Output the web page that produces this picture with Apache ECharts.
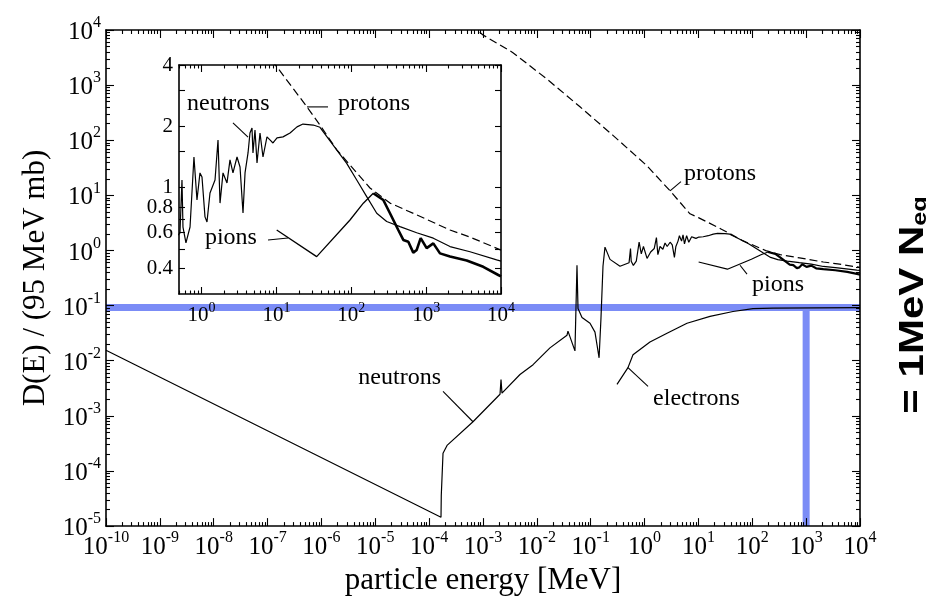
<!DOCTYPE html>
<html>
<head>
<meta charset="utf-8">
<script src="https://cdn.jsdelivr.net/npm/echarts@6/dist/echarts.min.js"></script>
<style>
html, body { margin: 0; padding: 0; background: #fff; }
#main { width: 926px; height: 601px; }
</style>
</head>
<body>
<div id="main"></div>
<script>
// particle energy in MeV, D(E) normalised to 95 MeV mb
var neutronE = [1e-10, 1.66e-4, 1.68e-4, 1.81e-4, 2.15e-4, 6.52e-4, 2.07e-3, 2.16e-3, 2.25e-3, 4.86e-3,
    8.51e-3, 1.75e-2, 3.63e-2, 3.78e-2, 5.10e-2, 5.56e-2, 5.81e-2, 6.89e-2, 9.70e-2, 0.120,
    0.131, 0.143, 0.155, 0.169, 0.184, 0.228, 0.350, 0.515, 0.548, 0.565,
    0.619, 0.702, 0.792, 0.869, 0.953, 1.014, 1.112, 1.183, 1.297, 1.514,
    1.660, 1.766, 1.936, 2.188, 2.399, 2.630, 2.979, 3.266, 3.581, 3.811,
    4.178, 4.436, 4.721, 4.864, 5.176, 5.508, 6.039, 6.622, 7.482, 8.204,
    8.995, 10.19, 12.25, 15.21, 18.84, 22.65, 31.12, 38.19, 63.83, 86.9,
    118.3, 160.7, 218.8, 297.2, 447.7, 748.2, 1247, 2084, 3855, 8750, 10000];
var neutronD = [1.55e-2, 1.45e-5, 3.58e-5, 2.09e-4, 2.91e-4, 7.82e-4, 2.47e-3, 4.58e-3, 2.58e-3, 5.62e-3,
    8.49e-3, 1.71e-2, 2.91e-2, 3.44e-2, 1.51e-2, 0.54, 8.83e-2, 6.11e-2, 4.78e-2, 3.30e-2,
    1.93e-2, 1.13e-2, 5.86e-2, 0.518, 1.15, 0.69, 0.518, 0.598, 1.089, 0.640,
    0.535, 0.640, 1.413, 0.869, 1.180, 1.127, 0.718, 0.678, 0.940, 1.089,
    1.714, 0.839, 1.180, 1.054, 1.368, 1.180, 1.413, 1.262, 0.750, 1.180,
    1.479, 1.854, 1.963, 1.479, 1.919, 1.321, 1.854, 1.413, 1.774, 1.714,
    1.656, 1.754, 1.774, 1.854, 1.986, 2.051, 2.028, 1.977, 1.531, 1.315,
    1.089, 0.902, 0.748, 0.681, 0.643, 0.600, 0.564, 0.513, 0.484, 0.441, 0.435];

var protonE = [8.71e-4, 1e-3, 3.6e-3, 1.55e-2, 6.32e-2, 0.259, 1.109, 2.965, 6.966, 10.19,
    25.64, 38.19, 64.42, 96.16, 177.8, 328.9, 755.1, 2084, 3855, 10000];
var protonD = [9120, 8128, 3882, 1279, 404.6, 122.7, 34.36, 12.13, 4.634, 3.908,
    2.489, 2.028, 1.528, 1.291, 0.995, 0.839, 0.733, 0.619, 0.571, 0.493];

var pionE = [10.09, 34.51, 96.16, 144.9, 196.8, 267.9, 328.9, 424.6, 495.5, 578.1,
    673, 748.2, 845.3, 1016, 1247, 1531, 2084, 3483, 5794, 9204, 10000];
var pionD = [0.619, 0.458, 0.693, 0.838, 0.938, 0.869, 0.748, 0.619, 0.553, 0.542,
    0.479, 0.494, 0.564, 0.504, 0.532, 0.475, 0.458, 0.438, 0.408, 0.372, 0.366];
var pionPeak = 4; // thick line from here on

var electronE = [0.3076, 0.492, 0.61, 1.259, 2.612, 6.138, 16.41, 43.85, 103, 242.7, 10000];
var electronD = [3.72e-3, 7.5e-3, 1.28e-2, 2.18e-2, 3.16e-2, 4.78e-2, 6.37e-2, 7.82e-2, 8.83e-2, 9.0e-2, 9.2e-2];

// 1 MeV neutron equivalent marker
var neqE = 1000;
var neqD = 0.092;

var mainDecadesX = [-10, -9, -8, -7, -6, -5, -4, -3, -2, -1, 0, 1, 2, 3, 4];
var mainDecadesY = [-5, -4, -3, -2, -1, 0, 1, 2, 3, 4];
var insetDecadesX = [0, 1, 2, 3, 4];
var insetLabelsY = [4, 2, 1, 0.8, 0.6, 0.4];
var insetTicksY = [4, 3, 2, 1.5, 1, 0.8, 0.7, 0.6, 0.5, 0.4];
var insetRangeE = [0.5, 10000];
var insetRangeD = [0.3, 4];

var L = Math.log10;
var serif = '"Liberation Serif","Times New Roman",serif';

function pts(E, D, a, b) {
    var out = [];
    for (var i = (a || 0); i < (b == null ? E.length : b); i++) out.push([L(E[i]), L(D[i])]);
    return out;
}
function minors(lo, hi) {
    var out = [];
    for (var n = Math.floor(lo) - 1; n <= hi; n++)
        for (var k = 2; k < 10; k++) {
            var v = n + L(k);
            if (v > lo && v < hi) out.push(v);
        }
    return out;
}
function sup(v) { return '{b|10}{s|' + Math.round(v) + '}'; }

var richMain = {
    b: { fontFamily: serif, fontSize: 25, lineHeight: 30, verticalAlign: 'bottom', color: '#000' },
    s: { fontFamily: serif, fontSize: 16, lineHeight: 18, verticalAlign: 'top', color: '#000' }
};
var richInset = {
    b: { fontFamily: serif, fontSize: 21, lineHeight: 25, verticalAlign: 'bottom', color: '#000' },
    s: { fontFamily: serif, fontSize: 14, lineHeight: 15, verticalAlign: 'top', color: '#000' }
};

function axis(o) {
    var a = {
        type: 'value', gridIndex: o.grid, min: o.min, max: o.max, position: o.pos, z: 4,
        axisLine: { show: !!o.line, onZero: false, lineStyle: { color: '#000', width: 1.6 } },
        axisTick: { show: true, inside: true, length: o.len, customValues: o.ticks,
            lineStyle: { color: '#000', width: 1.1 } },
        axisLabel: o.label || { show: false },
        splitLine: { show: false },
        axisPointer: { show: false }
    };
    if (o.name) {
        a.name = o.name;
        a.nameLocation = 'middle';
        a.nameGap = o.nameGap;
        a.nameTextStyle = { fontFamily: serif, fontSize: 31, color: '#000' };
    }
    return a;
}

var mx = [-10, 4], my = [-5, 4];
var ix = [L(insetRangeE[0]), L(insetRangeE[1])], iy = [L(insetRangeD[0]), L(insetRangeD[1])];

var xAxes = [
    axis({ grid: 0, min: mx[0], max: mx[1], pos: 'bottom', line: true, len: 8, ticks: mainDecadesX,
        name: 'particle energy [MeV]', nameGap: 30,
        label: { show: true, margin: 4, customValues: mainDecadesX, formatter: sup, rich: richMain } }),
    axis({ grid: 0, min: mx[0], max: mx[1], pos: 'bottom', len: 4, ticks: minors(mx[0], mx[1]) }),
    axis({ grid: 0, min: mx[0], max: mx[1], pos: 'top', line: true, len: 8, ticks: mainDecadesX }),
    axis({ grid: 0, min: mx[0], max: mx[1], pos: 'top', len: 4, ticks: minors(mx[0], mx[1]) }),
    axis({ grid: 1, min: ix[0], max: ix[1], pos: 'bottom', line: true, len: 7, ticks: insetDecadesX,
        label: { show: true, margin: 7, customValues: insetDecadesX, formatter: sup, rich: richInset } }),
    axis({ grid: 1, min: ix[0], max: ix[1], pos: 'bottom', len: 3.5, ticks: minors(ix[0], ix[1]) }),
    axis({ grid: 1, min: ix[0], max: ix[1], pos: 'top', line: true, len: 7, ticks: insetDecadesX }),
    axis({ grid: 1, min: ix[0], max: ix[1], pos: 'top', len: 3.5, ticks: minors(ix[0], ix[1]) })
];
var yAxes = [
    axis({ grid: 0, min: my[0], max: my[1], pos: 'left', line: true, len: 8, ticks: mainDecadesY,
        name: 'D(E) / (95 MeV mb)', nameGap: 52,
        label: { show: true, margin: 5, customValues: mainDecadesY, formatter: sup, rich: richMain } }),
    axis({ grid: 0, min: my[0], max: my[1], pos: 'left', len: 4, ticks: minors(my[0], my[1]) }),
    axis({ grid: 0, min: my[0], max: my[1], pos: 'right', line: true, len: 8, ticks: mainDecadesY }),
    axis({ grid: 0, min: my[0], max: my[1], pos: 'right', len: 4, ticks: minors(my[0], my[1]) }),
    axis({ grid: 1, min: iy[0], max: iy[1], pos: 'left', line: true, len: 6, ticks: insetTicksY.map(L),
        label: { show: true, margin: 6, customValues: insetLabelsY.map(L), color: '#000',
            fontFamily: serif, fontSize: 21,
            formatter: function (v) { return String(Math.round(Math.pow(10, v) * 10) / 10); } } }),
    axis({ grid: 1, min: iy[0], max: iy[1], pos: 'right', line: true, len: 6, ticks: insetTicksY.map(L) })
];

function curve(xi, yi, data, width, dash) {
    return {
        type: 'line', xAxisIndex: xi, yAxisIndex: yi, data: data,
        symbol: 'none', silent: true, z: 3,
        lineStyle: { color: '#000', width: width, type: dash || 'solid' }
    };
}

var dashed = [8, 4];
var series = [
    { type: 'line', xAxisIndex: 0, yAxisIndex: 0, symbol: 'none', silent: true, z: 1,
      data: [[mx[0], L(neqD)], [mx[1], L(neqD)]],
      lineStyle: { color: '#7b8cf6', width: 7, cap: 'butt' } },
    { type: 'line', xAxisIndex: 0, yAxisIndex: 0, symbol: 'none', silent: true, z: 1,
      data: [[L(neqE), L(neqD) - 0.06], [L(neqE), my[0]]],
      lineStyle: { color: '#7b8cf6', width: 7, cap: 'butt' } },
    curve(0, 0, pts(neutronE, neutronD), 1.2),
    curve(0, 0, pts(protonE, protonD), 1.2, dashed),
    curve(0, 0, pts(pionE, pionD, 0, pionPeak + 1), 1.2),
    curve(0, 0, pts(pionE, pionD, pionPeak), 2.2),
    curve(0, 0, pts(electronE, electronD), 1.2),
    curve(4, 4, pts(neutronE, neutronD), 1.2),
    curve(4, 4, pts(protonE, protonD), 1.2, dashed),
    curve(4, 4, pts(pionE, pionD, 0, pionPeak + 1), 1.3),
    curve(4, 4, pts(pionE, pionD, pionPeak), 2.6)
];

var chart = echarts.init(document.getElementById('main'));
chart.setOption({
    animation: false,
    backgroundColor: '#fff',
    grid: [
        { left: 106, top: 30, width: 754, height: 504, containLabel: false },
        { left: 179, top: 65, width: 322, height: 229, containLabel: false,
          show: true, backgroundColor: '#fff', borderWidth: 0 }
    ],
    xAxis: xAxes,
    yAxis: yAxes,
    series: series
});

// curve labels with leader lines, anchored in data units
var notes = [
    { g: 0, text: 'protons', at: [5.4, 24.7], align: 'left', line: [[2.97, 12.1], [4.74, 17.8]] },
    { g: 0, text: 'neutrons', at: [1.66e-4, 4.97e-3], align: 'right', line: [[1.81e-4, 2.79e-3], [6.52e-4, 7.82e-4]] },
    { g: 0, text: 'electrons', at: [1.44, 2.01e-3], align: 'left', line: [[0.492, 7.5e-3], [1.16, 3.44e-3]] },
    { g: 0, text: 'pions', at: [98.9, 0.237], align: 'left', line: [[59.2, 0.54], [79.8, 0.372]] },
    { g: 4, text: 'neutrons', at: [0.64, 2.57], align: 'left', line: [[2.63, 2.08], [4.18, 1.77]] },
    { g: 4, text: 'protons', at: [66.5, 2.57], align: 'left', line: [[25.6, 2.49], [48.9, 2.49]] },
    { g: 4, text: 'pions', at: [1.11, 0.566], align: 'left', line: [[7.73, 0.553], [14.3, 0.565]] }
];
function px(g, p) { return chart.convertToPixel({ xAxisIndex: g, yAxisIndex: g }, [L(p[0]), L(p[1])]); }

var graphics = [];
notes.forEach(function (n) {
    var t = px(n.g, n.at), a = px(n.g, n.line[0]), b = px(n.g, n.line[1]);
    graphics.push({ type: 'line', z: 10, silent: true,
        shape: { x1: a[0], y1: a[1], x2: b[0], y2: b[1] },
        style: { stroke: '#000', lineWidth: 1.1 } });
    graphics.push({ type: 'text', z: 10, silent: true, x: t[0], y: t[1],
        style: { text: n.text, fill: '#000', font: '24px ' + serif, align: n.align, verticalAlign: 'middle' } });
});
graphics.push({
    type: 'text', z: 10, silent: true, x: 912, y: 305, rotation: Math.PI / 2, scaleX: 1.2,
    style: {
        text: '{a|= 1MeV N}{b|eq}', align: 'center', verticalAlign: 'middle', fill: '#000',
        rich: {
            a: { fontFamily: '"Liberation Sans",Arial,sans-serif', fontWeight: 'bold', fontSize: 35,
                 lineHeight: 38, verticalAlign: 'bottom', fill: '#000' },
            b: { fontFamily: '"Liberation Sans",Arial,sans-serif', fontWeight: 'bold', fontSize: 21,
                 lineHeight: 22, verticalAlign: 'bottom', fill: '#000' }
        }
    }
});
chart.setOption({ graphic: graphics });
</script>
</body>
</html>
